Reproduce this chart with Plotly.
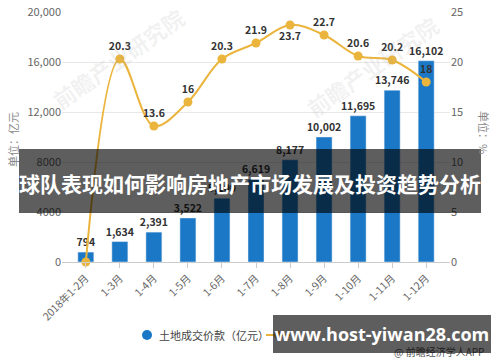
import plotly.graph_objects as go

categories = ["2018年1-2月", "1-3月", "1-4月", "1-5月", "1-6月", "1-7月",
              "1-8月", "1-9月", "1-10月", "1-11月", "1-12月"]
land_value = [794, 1634, 2391, 3522, 5100, 6619, 8177, 10002, 11695, 13746, 16102]
land_value_labels = ["794", "1,634", "2,391", "3,522", "5,100", "6,619", "8,177",
                     "10,002", "11,695", "13,746", "16,102"]
growth = [0, 20.3, 13.6, 16, 20.3, 21.9, 23.7, 22.7, 20.6, 20.2, 18]
growth_labels = ["", "20.3", "13.6", "16", "20.3", "21.9", "23.7", "22.7", "20.6", "20.2", "18"]
left_ticks = [0, 4000, 8000, 12000, 16000, 20000]
left_ticktext = ["0", "4000", "8000", "12,000", "16,000", "20,000"]
right_ticks = [0, 5, 10, 15, 20, 25]
legend_names = ["土地成交价款（亿元）", "同比增长（%）"]

BLUE = "#1a78c6"
GOLD = "#ebb43c"
FONT = "Noto Sans CJK SC"

# plot area in pixels
L, R, T, B = 62, 450, 12, 262
W, H = R - L, B - T


def px(x):
    return (x - L) / W


def py(y):
    return (B - y) / H


label_pos = ["top center"] * len(growth)
label_pos[growth.index(max(growth))] = "bottom center"

fig = go.Figure()
fig.add_trace(go.Bar(
    x=categories, y=land_value, marker_color=BLUE, width=0.47,
    text=land_value_labels, textposition="outside", cliponaxis=False,
    constraintext="none",
    textfont=dict(family=FONT, size=10.5, color="#333", weight="bold"),
    showlegend=False, yaxis="y"))
fig.add_trace(go.Scatter(
    x=categories, y=growth, mode="lines+markers+text", yaxis="y2",
    line=dict(color=GOLD, width=2, shape="spline", smoothing=1.0),
    marker=dict(color=GOLD, size=9),
    text=growth_labels, textposition=label_pos, cliponaxis=False,
    textfont=dict(family=FONT, size=10.5, color="#333", weight="bold"),
    showlegend=False))

fig.update_layout(
    width=500, height=362,
    margin=dict(l=L, r=500 - R, t=T, b=362 - B),
    paper_bgcolor="white", plot_bgcolor="white",
    font=dict(family=FONT, size=11, color="#666"),
    showlegend=False,
    xaxis=dict(type="category", range=[-0.7, 10.7], tickangle=-45, automargin=False,
               showline=True, linecolor="#cccccc", ticks="outside", ticklen=5,
               tickcolor="#cccccc", tickfont=dict(size=10.5, color="#666"),
               showgrid=False),
    yaxis=dict(range=[0, 20000], tickvals=left_ticks, ticktext=left_ticktext, automargin=False,
               showgrid=True, gridcolor="#e8e8e8", zeroline=False,
               tickfont=dict(size=11, color="#666")),
    yaxis2=dict(range=[0, 25], tickvals=right_ticks, overlaying="y", side="right",
                automargin=False, showgrid=False, zeroline=False,
                tickfont=dict(size=11, color="#666")),
)


def note(text, x, y, **kw):
    fig.add_annotation(text=text, x=px(x), y=py(y), xref="paper", yref="paper",
                       showarrow=False, yanchor="middle", **kw)


# manual legend
fig.add_shape(type="circle", xref="paper", yref="paper",
              x0=px(142), x1=px(152), y0=py(340), y1=py(330),
              fillcolor=BLUE, line=dict(width=0))
note(legend_names[0], 157, 335, xanchor="left", font=dict(size=11, color="#444"))
fig.add_shape(type="line", xref="paper", yref="paper",
              x0=px(266), x1=px(290), y0=py(335), y1=py(335),
              line=dict(color=GOLD, width=2))
fig.add_shape(type="circle", xref="paper", yref="paper",
              x0=px(274), x1=px(282), y0=py(339), y1=py(331),
              fillcolor=GOLD, line=dict(width=0))

# axis titles
note("单位：亿元", 13, 140, xanchor="center", textangle=-90, font=dict(size=11, color="#888"))
note("单位：%", 484, 133, xanchor="center", textangle=90, font=dict(size=11, color="#888"))

# watermarks
for wx, wy in [(118, 58), (372, 66)]:
    note("前瞻产业研究院", wx, wy, xanchor="center", textangle=-35,
         font=dict(size=22, color="rgba(170,170,170,0.16)", weight="bold"))

# source
note("@ 前瞻经济学人APP", 486, 352, xanchor="right", font=dict(size=10, color="#555"))

# overlay banners
fig.add_shape(type="rect", xref="paper", yref="paper", layer="above",
              x0=px(19), x1=px(481), y0=py(213), y1=py(149),
              fillcolor="rgba(0,0,0,0.63)", line=dict(width=0))
note("球队表现如何影响房地产市场发展及投资趋势分析", 250, 183, xanchor="center",
     font=dict(size=21, color="white", family=FONT, weight="bold"))
note("www.host-yiwan28.com", 382, 334, xanchor="center",
     width=218, height=38, borderpad=0, borderwidth=0,
     align="center", valign="middle", bgcolor="rgba(0,0,0,0.63)",
     font=dict(size=18, color="white", family="Open Sans", weight="bold"))

fig.write_html("out.html",
               config={"displayModeBar": False},
               post_script="document.body.style.margin='0px';"
                           "document.body.style.overflow='hidden';")
